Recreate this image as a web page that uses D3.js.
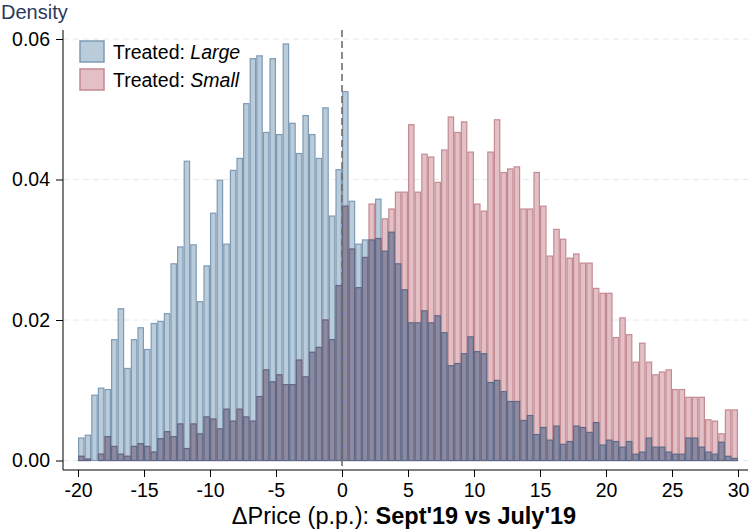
<!DOCTYPE html>
<html><head><meta charset="utf-8">
<script src="https://cdn.jsdelivr.net/npm/d3@7"></script>
<style>
body{margin:0;background:#fff;}
svg text{font-family:"Liberation Sans",Arial,sans-serif;}
</style></head>
<body>
<svg id="chart" width="752" height="531"></svg>
<script>
// Bin edges: 0.5 p.p. bins from -20 to 30
const binStart = -20;
const binWidth = 0.5;
// Density, Treated: Large
const largeDensity = [
0.0032,0.0036,0.0093,0.0103,0.0101,0.0172,0.0216,0.0131,0.0172,0.0189,
0.0158,0.0195,0.0198,0.0209,0.0280,0.0304,0.0426,0.0307,0.0226,0.0277,
0.0352,0.0399,0.0308,0.0413,0.0430,0.0508,0.0572,0.0576,0.0467,0.0572,
0.0464,0.0593,0.0480,0.0437,0.0491,0.0464,0.0430,0.0502,0.0348,0.0414,
0.0525,0.0369,0.0308,0.0314,0.0314,0.0372,0.0298,0.0325,0.0280,0.0243,
0.0196,0.0196,0.0213,0.0196,0.0206,0.0182,0.0135,0.0138,0.0152,0.0176,
0.0155,0.0152,0.0111,0.0114,0.0098,0.0084,0.0084,0.0057,0.0064,0.0037,
0.0047,0.0029,0.0049,0.0023,0.0027,0.0049,0.0047,0.0040,0.0054,0.0022,
0.0029,0.0027,0.0019,0.0027,0.0009,0.0012,0.0032,0.0019,0.0019,0.0012,
0.0009,0.0009,0.0032,0.0032,0.0019,0.0012,0.0009,0.0026,0.0006,0.0003];
// Density, Treated: Small
const smallDensity = [
0.0006,0.0002,0.0000,0.0009,0.0034,0.0020,0.0009,0.0006,0.0020,0.0024,
0.0020,0.0012,0.0031,0.0041,0.0034,0.0052,0.0017,0.0052,0.0038,0.0062,
0.0059,0.0045,0.0073,0.0056,0.0073,0.0062,0.0056,0.0091,0.0129,0.0112,
0.0122,0.0108,0.0108,0.0143,0.0119,0.0154,0.0161,0.0200,0.0172,0.0249,
0.0362,0.0301,0.0246,0.0289,0.0365,0.0316,0.0344,0.0358,0.0382,0.0382,
0.0478,0.0382,0.0436,0.0432,0.0396,0.0442,0.0489,0.0467,0.0482,0.0439,
0.0365,0.0355,0.0439,0.0485,0.0410,0.0415,0.0418,0.0358,0.0358,0.0410,
0.0362,0.0291,0.0329,0.0315,0.0288,0.0294,0.0281,0.0281,0.0245,0.0238,
0.0238,0.0175,0.0203,0.0179,0.0140,0.0167,0.0140,0.0122,0.0126,0.0129,
0.0101,0.0101,0.0090,0.0090,0.0090,0.0058,0.0056,0.0038,0.0072,0.0072];
const xTicks = [-20,-15,-10,-5,0,5,10,15,20,25,30];
const yTicks = [0, 0.02, 0.04, 0.06];
const seriesNames = ["Treated: ", "Treated: "];
const seriesItalic = ["Large", "Small"];

const svg = d3.select("#chart");
const x = d3.scaleLinear().domain([-20, 30]).range([78, 738]);
const y = d3.scaleLinear().domain([0, 0.06]).range([460.5, 39]);
const axisY = 470, axisX = 63;

// grid
svg.append("g").selectAll("line").data(yTicks).join("line")
  .attr("x1", axisX).attr("x2", 748)
  .attr("y1", d => y(d)).attr("y2", d => y(d))
  .attr("stroke", "#e3eaee").attr("stroke-width", 1).attr("stroke-dasharray", "6,4");

const bins = largeDensity.map((v, i) => ({
  x0: binStart + i * binWidth, x1: binStart + (i + 1) * binWidth,
  large: v, small: smallDensity[i]
}));

const colors = {
  largeFill: "#bacbd9", largeStroke: "#7e9bb5",
  smallFill: "#e2c0c5", smallStroke: "#c58a92",
  overFill: "#8d8aa0", overStroke: "#5e6989"
};

function drawBars(val, fill, stroke) {
  svg.append("g").selectAll("rect").data(bins).join("rect")
    .attr("x", d => x(d.x0) + 0.6)
    .attr("width", d => x(d.x1) - x(d.x0) - 1.2)
    .attr("y", d => y(val(d)))
    .attr("height", d => Math.max(0, y(0) - y(val(d))))
    .attr("fill", fill).attr("stroke", stroke).attr("stroke-width", 1.2)
    .attr("display", d => val(d) > 0 ? null : "none");
}
drawBars(d => d.large, colors.largeFill, colors.largeStroke);
drawBars(d => d.small, colors.smallFill, colors.smallStroke);
drawBars(d => Math.min(d.large, d.small), colors.overFill, colors.overStroke);

// zero line
svg.append("line").attr("x1", x(0)).attr("x2", x(0)).attr("y1", 30).attr("y2", axisY)
  .attr("stroke", "#6e6e6e").attr("stroke-width", 1.6).attr("stroke-dasharray", "7,4");

// axes
const xAxis = d3.axisBottom(x).tickValues(xTicks).tickSize(7).tickPadding(6)
  .tickFormat(d => d < 0 ? "-" + Math.abs(d) : d);
const gx = svg.append("g").attr("transform", `translate(0,${axisY})`).call(xAxis);
gx.select(".domain").attr("d", `M${axisX},0H748`);
gx.selectAll("text").attr("font-size", 19.5).attr("fill", "#000").attr("font-family", "Liberation Sans, Arial, sans-serif");

const yAxis = d3.axisLeft(y).tickValues(yTicks).tickSize(7).tickPadding(6)
  .tickFormat(d3.format(".2f"));
const gy = svg.append("g").attr("transform", `translate(${axisX},0)`).call(yAxis);
gy.select(".domain").attr("d", `M0,30V${axisY}`);
gy.selectAll("text").attr("font-size", 19.5).attr("fill", "#000").attr("font-family", "Liberation Sans, Arial, sans-serif");

svg.append("text").attr("x", 1).attr("y", 19).attr("font-size", 20)
  .attr("fill", "#2b3a5c").text("Density");

const xt = svg.append("text").attr("x", 404).attr("y", 524).attr("text-anchor", "middle")
  .attr("font-size", 23.5).attr("fill", "#000");
xt.append("tspan").text("\u0394Price (p.p.): ");
xt.append("tspan").attr("font-weight", "bold").text("Sept'19 vs July'19");

// legend
const leg = svg.append("g");
const legFill = [colors.largeFill, colors.smallFill];
const legStroke = [colors.largeStroke, colors.smallStroke];
seriesNames.forEach((s, i) => {
  leg.append("rect").attr("x", 80).attr("y", 41 + i * 28).attr("width", 24).attr("height", 21)
    .attr("fill", legFill[i]).attr("stroke", legStroke[i]).attr("stroke-width", 1.5);
  const t = leg.append("text").attr("x", 113).attr("y", 59 + i * 28).attr("font-size", 19.5).attr("fill", "#000");
  t.append("tspan").text(s);
  t.append("tspan").attr("font-style", "italic").text(seriesItalic[i]);
});
</script>
</body></html>
